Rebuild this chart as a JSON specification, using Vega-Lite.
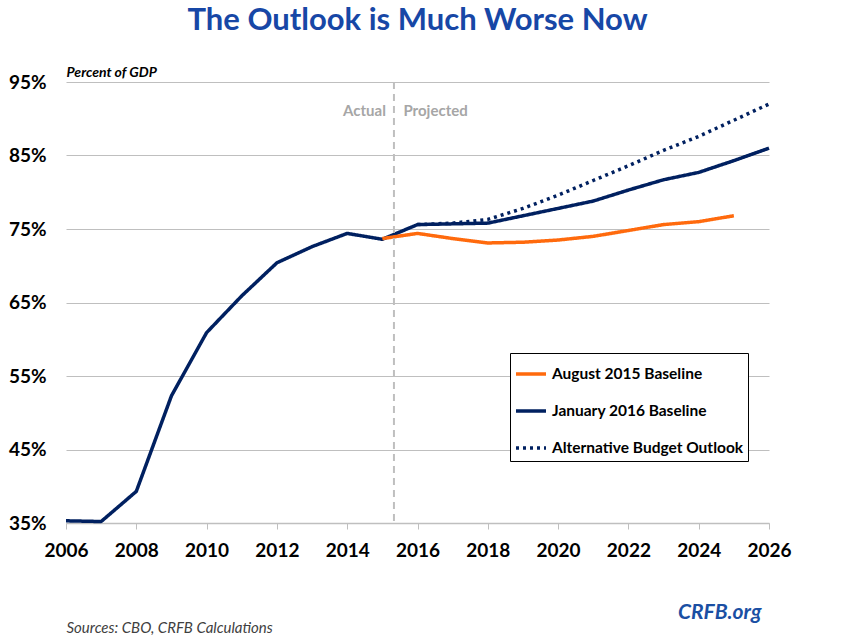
{
  "$schema": "https://vega.github.io/schema/vega-lite/v6.json",
  "width": 703,
  "height": 441,
  "autosize": {"type": "none"},
  "padding": {"left": 66, "top": 82, "right": 87, "bottom": 117},
  "background": "white",
  "title": {
    "text": "The Outlook is Much Worse Now",
    "font": "Lato",
    "fontSize": 31,
    "fontWeight": "bold",
    "color": "#1747A6",
    "anchor": "middle",
    "offset": 28
  },
  "config": {
    "view": {"stroke": null},
    "font": "Lato",
    "legend": {
      "orient": "none",
      "legendX": 444,
      "legendY": 271,
      "fillColor": "white",
      "strokeColor": "black",
      "padding": 4,
      "symbolType": "stroke",
      "symbolStrokeWidth": 3.5,
      "symbolSize": 900,
      "labelFont": "Lato",
      "labelFontSize": 15.5,
      "labelFontWeight": "bold",
      "labelColor": "black",
      "labelOffset": 4,
      "labelLimit": 300,
      "rowPadding": 11,
      "titlePadding": 0
    }
  },
  "datasets": {
    "series": [
      {"year": 2006, "value": 35.3, "series": "January 2016 Baseline"},
      {"year": 2007, "value": 35.2, "series": "January 2016 Baseline"},
      {"year": 2008, "value": 39.3, "series": "January 2016 Baseline"},
      {"year": 2009, "value": 52.3, "series": "January 2016 Baseline"},
      {"year": 2010, "value": 60.9, "series": "January 2016 Baseline"},
      {"year": 2011, "value": 65.9, "series": "January 2016 Baseline"},
      {"year": 2012, "value": 70.4, "series": "January 2016 Baseline"},
      {"year": 2013, "value": 72.6, "series": "January 2016 Baseline"},
      {"year": 2014, "value": 74.4, "series": "January 2016 Baseline"},
      {"year": 2015, "value": 73.6, "series": "January 2016 Baseline"},
      {"year": 2016, "value": 75.6, "series": "January 2016 Baseline"},
      {"year": 2017, "value": 75.7, "series": "January 2016 Baseline"},
      {"year": 2018, "value": 75.8, "series": "January 2016 Baseline"},
      {"year": 2019, "value": 76.8, "series": "January 2016 Baseline"},
      {"year": 2020, "value": 77.8, "series": "January 2016 Baseline"},
      {"year": 2021, "value": 78.8, "series": "January 2016 Baseline"},
      {"year": 2022, "value": 80.3, "series": "January 2016 Baseline"},
      {"year": 2023, "value": 81.7, "series": "January 2016 Baseline"},
      {"year": 2024, "value": 82.7, "series": "January 2016 Baseline"},
      {"year": 2025, "value": 84.3, "series": "January 2016 Baseline"},
      {"year": 2026, "value": 86.0, "series": "January 2016 Baseline"},
      {"year": 2015, "value": 73.7, "series": "August 2015 Baseline"},
      {"year": 2016, "value": 74.4, "series": "August 2015 Baseline"},
      {"year": 2017, "value": 73.7, "series": "August 2015 Baseline"},
      {"year": 2018, "value": 73.1, "series": "August 2015 Baseline"},
      {"year": 2019, "value": 73.2, "series": "August 2015 Baseline"},
      {"year": 2020, "value": 73.5, "series": "August 2015 Baseline"},
      {"year": 2021, "value": 74.0, "series": "August 2015 Baseline"},
      {"year": 2022, "value": 74.8, "series": "August 2015 Baseline"},
      {"year": 2023, "value": 75.6, "series": "August 2015 Baseline"},
      {"year": 2024, "value": 76.0, "series": "August 2015 Baseline"},
      {"year": 2025, "value": 76.8, "series": "August 2015 Baseline"},
      {"year": 2016, "value": 75.6, "series": "Alternative Budget Outlook"},
      {"year": 2017, "value": 75.8, "series": "Alternative Budget Outlook"},
      {"year": 2018, "value": 76.3, "series": "Alternative Budget Outlook"},
      {"year": 2019, "value": 77.8, "series": "Alternative Budget Outlook"},
      {"year": 2020, "value": 79.6, "series": "Alternative Budget Outlook"},
      {"year": 2021, "value": 81.6, "series": "Alternative Budget Outlook"},
      {"year": 2022, "value": 83.6, "series": "Alternative Budget Outlook"},
      {"year": 2023, "value": 85.7, "series": "Alternative Budget Outlook"},
      {"year": 2024, "value": 87.6, "series": "Alternative Budget Outlook"},
      {"year": 2025, "value": 89.8, "series": "Alternative Budget Outlook"},
      {"year": 2026, "value": 92.0, "series": "Alternative Budget Outlook"}
    ],
    "notes": [
      {"year": 2015.1, "value": 91, "label": "Actual", "side": "left"},
      {"year": 2015.6, "value": 91, "label": "Projected", "side": "right"}
    ],
    "divider": [{"year": 2015.33}]
  },
  "resolve": {"axis": {"y": "independent"}},
  "layer": [
    {
      "data": {"name": "series"},
      "mark": {"type": "line", "strokeWidth": 3.5, "strokeJoin": "round"},
      "encoding": {
        "x": {
          "field": "year",
          "type": "quantitative",
          "scale": {"domain": [2006, 2026], "nice": false, "zero": false},
          "axis": {
            "values": [2006, 2007, 2008, 2009, 2010, 2011, 2012, 2013, 2014, 2015, 2016, 2017, 2018, 2019, 2020, 2021, 2022, 2023, 2024, 2025, 2026],
            "labelExpr": "datum.value % 2 == 0 ? datum.label : ''",
            "format": "d",
            "grid": false,
            "domainColor": "#bfbfbf",
            "domainWidth": 1.5,
            "tickColor": "#bfbfbf",
            "tickSize": 6,
            "tickWidth": 1,
            "labelFont": "Lato",
            "labelFontSize": 19,
            "labelFontWeight": "bold",
            "labelColor": "black",
            "labelPadding": 12,
            "labelFlush": false,
            "title": "Sources: CBO, CRFB Calculations",
            "titleFont": "Lato",
            "titleFontSize": 15,
            "titleFontWeight": "normal",
            "titleFontStyle": "italic",
            "titleColor": "#404040",
            "titleAnchor": "start",
            "titleAlign": "left",
            "titleBaseline": "alphabetic",
            "titleX": 0,
            "titleY": 109
          }
        },
        "y": {
          "field": "value",
          "type": "quantitative",
          "scale": {"domain": [35, 95], "nice": false, "zero": false},
          "axis": {
            "values": [35, 45, 55, 65, 75, 85, 95],
            "labelExpr": "datum.value + '%'",
            "domain": false,
            "ticks": false,
            "gridColor": "#bfbfbf",
            "gridWidth": 1.2,
            "labelFont": "Lato",
            "labelFontSize": 19,
            "labelFontWeight": "bold",
            "labelColor": "black",
            "labelPadding": 20,
            "title": "Percent of GDP",
            "titleAngle": 0,
            "titleX": 0,
            "titleY": -6,
            "titleAlign": "left",
            "titleBaseline": "alphabetic",
            "titleFont": "Lato",
            "titleFontSize": 14,
            "titleFontWeight": "bold",
            "titleFontStyle": "italic",
            "titleColor": "black"
          }
        },
        "color": {
          "field": "series",
          "type": "nominal",
          "scale": {
            "domain": ["August 2015 Baseline", "January 2016 Baseline", "Alternative Budget Outlook"],
            "range": ["#FF6A0D", "#002060", "#002060"]
          },
          "legend": {"title": null}
        },
        "strokeDash": {
          "field": "series",
          "type": "nominal",
          "scale": {
            "domain": ["August 2015 Baseline", "January 2016 Baseline", "Alternative Budget Outlook"],
            "range": [[1, 0], [1, 0], [3, 4]]
          },
          "legend": {"title": null}
        },
        "order": {"field": "year", "type": "quantitative"}
      }
    },
    {
      "data": {"name": "divider"},
      "mark": {"type": "rule", "color": "#bfbfbf", "strokeWidth": 2, "strokeDash": [7, 5]},
      "encoding": {
        "x": {"field": "year", "type": "quantitative"}
      }
    },
    {
      "data": {"name": "notes"},
      "transform": [{"filter": "datum.side == 'left'"}],
      "mark": {"type": "text", "font": "Lato", "fontSize": 15, "fontWeight": "bold", "color": "#a6a6a6", "baseline": "middle", "align": "right"},
      "encoding": {
        "x": {"field": "year", "type": "quantitative"},
        "y": {
          "field": "value",
          "type": "quantitative",
          "axis": {
            "orient": "right",
            "labels": false,
            "ticks": false,
            "domain": false,
            "grid": false,
            "title": "CRFB.org",
            "titleAngle": 0,
            "titleX": -8,
            "titleY": 536,
            "titleAlign": "right",
            "titleBaseline": "alphabetic",
            "titleFont": "Lato",
            "titleFontSize": 21,
            "titleFontWeight": "bold",
            "titleFontStyle": "italic",
            "titleColor": "#1A4FA3"
          }
        },
        "text": {"field": "label"}
      }
    },
    {
      "data": {"name": "notes"},
      "transform": [{"filter": "datum.side == 'right'"}],
      "mark": {"type": "text", "font": "Lato", "fontSize": 15, "fontWeight": "bold", "color": "#a6a6a6", "baseline": "middle", "align": "left"},
      "encoding": {
        "x": {"field": "year", "type": "quantitative"},
        "y": {"field": "value", "type": "quantitative", "axis": null},
        "text": {"field": "label"}
      }
    }
  ]
}
